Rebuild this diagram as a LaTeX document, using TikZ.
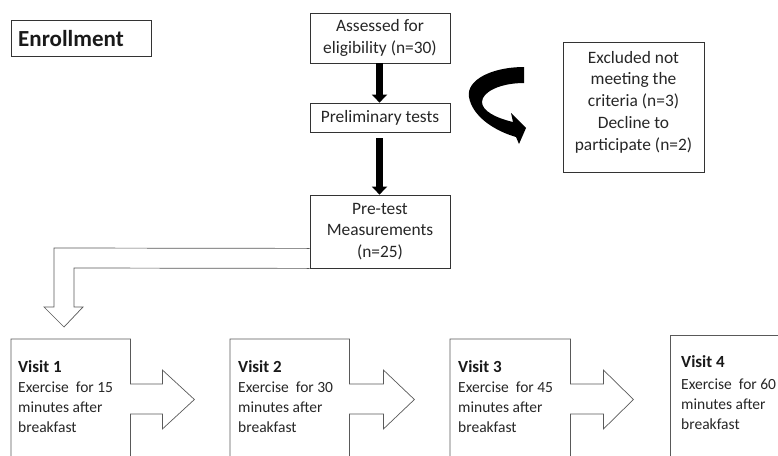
\documentclass[tikz,border=0pt]{standalone}
\usepackage{fontspec}
\setmainfont{Carlito}
\usetikzlibrary{arrows.meta,calc}
\begin{document}
\begin{tikzpicture}[x=1pt,y=-1pt,
  box/.style={draw=black!80, line width=0.8pt, inner sep=0pt},
  txt/.style={inner sep=0pt, align=center, text=black!85, font=\fontsize{17.4}{21.7}\selectfont},
  vtext/.style={inner sep=0pt, align=left, anchor=west, text=black!85, font=\fontsize{15.5}{20}\selectfont},
  vhead/.style={inner sep=0pt, anchor=west, text=black!90, font=\bfseries\fontsize{17}{20}\selectfont},
  vline/.style={draw=black!65, line width=0.7pt},
  thick arrow/.style={line width=7pt, -{Triangle[width=15pt,length=8pt]}}
]
\clip (0,0) rectangle (778,455);

% Enrollment
\node[box, minimum width=140pt, minimum height=36pt] (enrbox) at (81,38) {};
\node[inner sep=0pt, anchor=west, text=black!90, font=\bfseries\fontsize{23}{27}\selectfont] (enr) at (18,39) {Enrollment};

% main column
\node[box, txt, minimum width=140pt, minimum height=50pt] (assess) at (380,38) {Assessed for\\eligibility (n=30)};
\node[box, txt, minimum width=140pt, minimum height=29pt] (prelim) at (380,117.5) {Preliminary tests};
\node[box, txt, minimum width=140pt, minimum height=73pt] (pre) at (380,231.5) {Pre-test\\Measurements\\(n=25)};

\draw[thick arrow] ([xshift=-0.5pt]assess.south) -- ([xshift=-0.5pt]prelim.north);
\draw[thick arrow] ([xshift=-0.5pt,yshift=-6pt]prelim.south) -- ([xshift=-0.5pt]pre.north);

% excluded
\node[box, minimum width=141pt, minimum height=130pt] (exbox) at (633.5,107) {};
\node[txt, font=\fontsize{17.4}{21.8}\selectfont] (ex) at (633.5,102) {Excluded not\\meeting the\\criteria (n=3)\\Decline to\\participate (n=2)};

% curved arrow
\fill[black] (524,67) .. controls (492,67) and (466,80) .. (469,97)
  .. controls (472,115) and (492,130) .. (516,137)
  -- (519,144) -- (526,128) -- (511,113) -- (513,122)
  .. controls (496,118) and (482,111) .. (482,102)
  .. controls (482,92) and (500,83) .. (524,83) -- cycle;

% visits
\node[inner sep=0pt, minimum width=119pt, minimum height=140pt, anchor=north west] (v1) at (11,339) {};
\node[inner sep=0pt, minimum width=119pt, minimum height=140pt, anchor=north west] (v2) at (230,339) {};
\node[inner sep=0pt, minimum width=120pt, minimum height=140pt, anchor=north west] (v3) at (450,339) {};
\node[inner sep=0pt, minimum width=120pt, minimum height=140pt, anchor=north west] (v4) at (670,335) {};

\draw[vline] (v1.south west) -- (v1.north west) -- (v1.north east) -- ++(0,45) -- ++(32,0) -- ++(0,-14)
  -- ++(32,29.5) -- ++(-32,29.5) -- ++(0,-15) -- ++(-32,0) -- (v1.south east);
\draw[vline] (v2.south west) -- (v2.north west) -- (v2.north east) -- ++(0,45) -- ++(34,0) -- ++(0,-14)
  -- ++(31,29.5) -- ++(-31,29.5) -- ++(0,-15) -- ++(-34,0) -- (v2.south east);
\draw[vline] (v3.south west) -- (v3.north west) -- (v3.north east) -- ++(0,45) -- ++(33,0) -- ++(0,-14)
  -- ++(30,29.5) -- ++(-30,29.5) -- ++(0,-15) -- ++(-33,0) -- (v3.south east);
\draw[vline] (v4.south west) -- (v4.north west) -- (v4.north east) -- (v4.south east);

\node[vhead] (v1h) at (18,367) {Visit 1};
\node[vtext] (v1t) at (18,407) {Exercise\ \ for 15\\minutes after\\breakfast};
\node[vhead] (v2h) at (238,367) {Visit 2};
\node[vtext] (v2t) at (238,407) {Exercise\ \ for 30\\minutes after\\breakfast};
\node[vhead] (v3h) at (458,367) {Visit 3};
\node[vtext] (v3t) at (458,407) {Exercise\ \ for 45\\minutes after\\breakfast};
\node[vhead] (v4h) at (681,362) {Visit 4};
\node[vtext] (v4t) at (681,404) {Exercise\ \ for 60\\minutes after\\breakfast};

% L-shaped block arrow
\coordinate (ltip) at (64,327);
\draw[vline] ([yshift=20pt]pre.south west) -- (54,248) -- (54,307) -- (44,307) -- (ltip)
  -- (83,307) -- (74,307) -- (74,268) -- (pre.south west);
\end{tikzpicture}
\end{document}
